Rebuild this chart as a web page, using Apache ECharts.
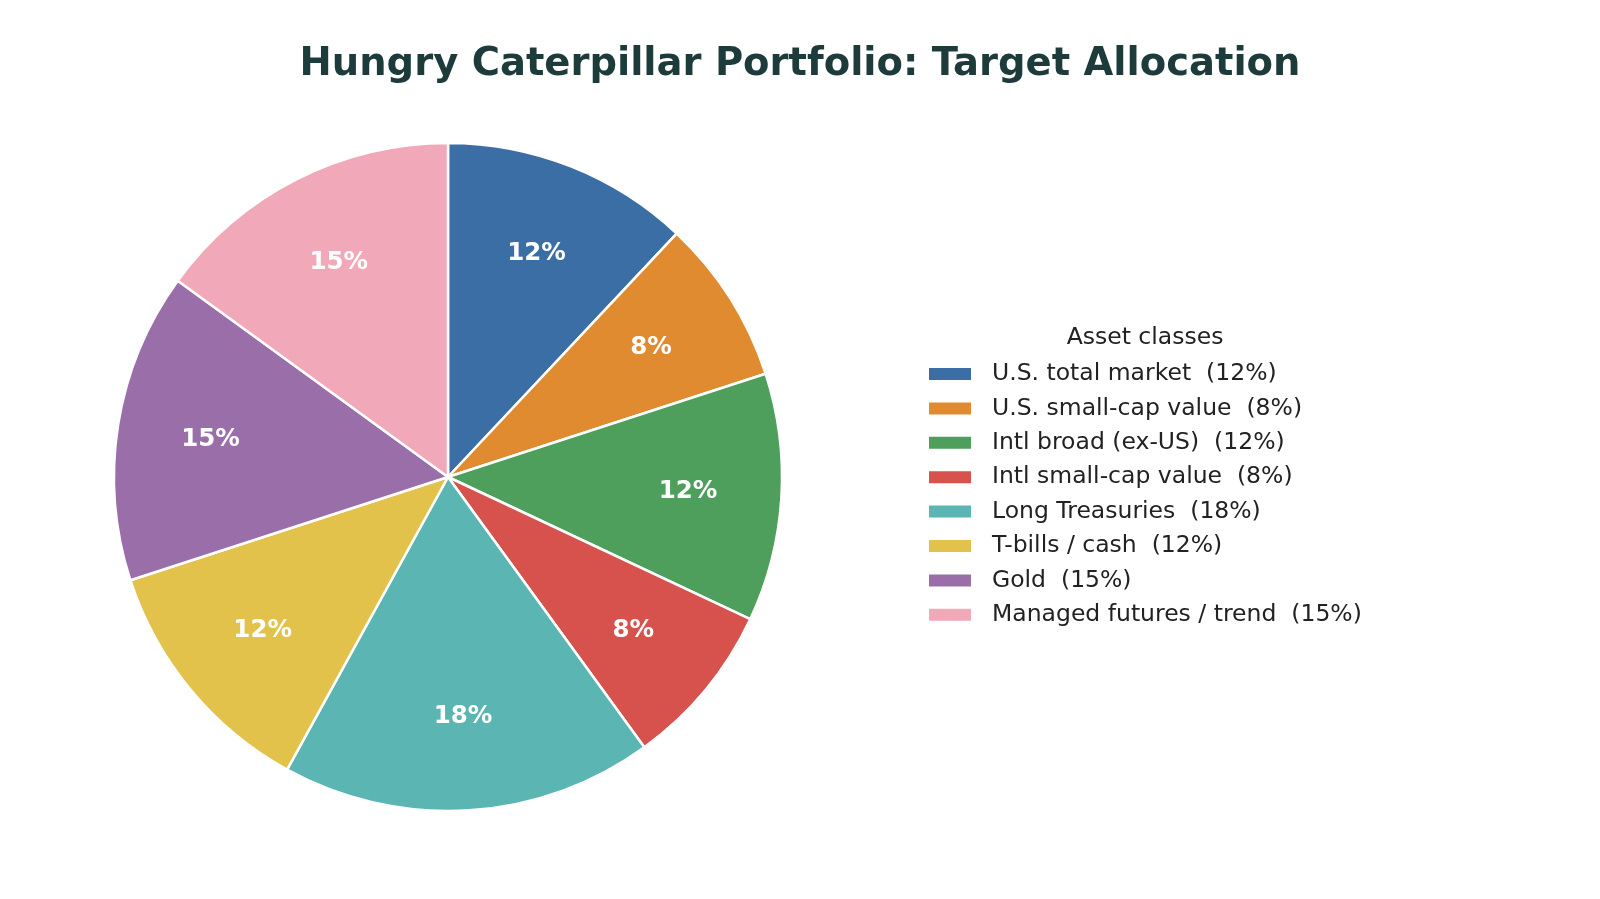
<!DOCTYPE html>
<html>
<head>
<meta charset="utf-8">
<script src="https://cdn.jsdelivr.net/npm/echarts@6/dist/echarts.min.js"></script>
<style>
  html, body { margin: 0; padding: 0; background: #fff; }
  #alloc { width: 1600px; height: 899px; }
</style>
</head>
<body>
<div id="alloc"></div>
<script>
var assetNames = ['U.S. total market', 'U.S. small-cap value', 'Intl broad (ex-US)', 'Intl small-cap value',
  'Long Treasuries', 'T-bills / cash', 'Gold', 'Managed futures / trend']
var weights = [12, 8, 12, 8, 18, 12, 15, 15]
var sliceColors = ['#3b6ea5', '#e08b2f', '#4e9e5c', '#d7524d', '#5bb5b2', '#e2c24b', '#9a6ea9', '#f1a8b8']

var font = 'DejaVu Sans'
var chart = echarts.init(document.getElementById('alloc'))

var pieData = assetNames.map(function (n, i) {
  return { name: n, value: weights[i], itemStyle: { color: sliceColors[i] } }
})

var option = {
  backgroundColor: '#ffffff',
  animation: false,
  title: [
    {
      text: 'Hungry Caterpillar Portfolio: Target Allocation',
      left: 'center',
      top: 40,
      textStyle: { fontFamily: font, fontSize: 38.5, fontWeight: 'bold', color: '#1e3b3b' }
    },
    {
      text: 'Asset classes',
      left: 1140,
      textAlign: 'center',
      top: 321,
      textStyle: { fontFamily: font, fontSize: 23.5, fontWeight: 'normal', color: '#222' }
    }
  ],
  legend: {
    orient: 'vertical',
    left: 922,
    top: 356,
    itemWidth: 44,
    itemHeight: 14,
    itemGap: 8.4,
    icon: 'rect',
    selectedMode: false,
    data: assetNames,
    formatter: function (name) {
      var i = assetNames.indexOf(name)
      return name + '  (' + weights[i] + '%)'
    },
    textStyle: { fontFamily: font, fontSize: 23.5, color: '#222', lineHeight: 26, padding: [0, 0, 0, 15] }
  },
  series: [
    {
      type: 'pie',
      center: [448, 477],
      radius: [0, 334],
      startAngle: 90,
      clockwise: true,
      silent: true,
      data: pieData,
      itemStyle: { borderColor: '#ffffff', borderWidth: 2.5 },
      label: { show: false },
      labelLine: { show: false }
    },
    {
      // invisible ring, only used to put the % labels at ~0.7 of the radius
      type: 'pie',
      center: [448, 477],
      radius: [141, 334],
      startAngle: 90,
      clockwise: true,
      silent: true,
      data: pieData.map(function (d) {
        return { name: d.name, value: d.value, itemStyle: { color: 'rgba(0,0,0,0)' } }
      }),
      itemStyle: { borderWidth: 0 },
      label: {
        show: true,
        position: 'inside',
        formatter: '{c}%',
        fontFamily: font,
        fontSize: 24.5,
        fontWeight: 'bold',
        color: '#ffffff'
      },
      labelLine: { show: false }
    }
  ]
}
chart.setOption(option)
</script>
</body>
</html>
